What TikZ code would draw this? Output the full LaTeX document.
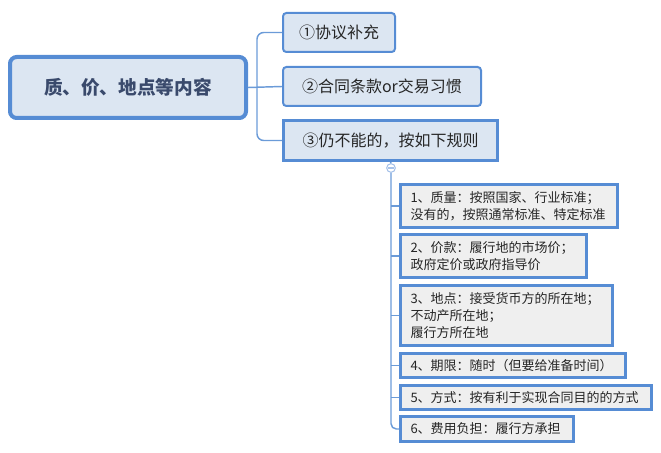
\documentclass[tikz,border=0pt]{standalone}
\usepackage{fontspec}
\setmainfont{Noto Sans CJK SC}
\usepackage{tikz}
\usepackage{xcolor}
\definecolor{edgeblue}{HTML}{568CD4}
\definecolor{linkblue}{HTML}{6B9BD8}
\definecolor{topicfill}{HTML}{DCE6F2}
\definecolor{rulefill}{HTML}{EFEFEF}
\definecolor{maintext}{HTML}{3A4A6C}
\definecolor{togblue}{HTML}{A8C3EA}

\begin{document}
\begin{tikzpicture}[x=0.75pt, y=-0.75pt,
        topic/.style = {draw = edgeblue, fill = topicfill, line width = 1.5pt,
            rounded corners = 2.5pt, minimum height = 29.25pt, inner sep = 0pt,
            font = \fontsize{12}{14}\selectfont, text = black!85},
        rulebox/.style = {draw = edgeblue, fill = rulefill, line width = 2.25pt,
            inner xsep = 7.5pt, inner ysep = 0pt, align = left,
            font = \fontsize{9.75}{13}\selectfont, text = black!85},
        link/.style = {draw = linkblue, line width = 1.1pt}]
        \useasboundingbox (0,0) rectangle (661,453);
        % central topic
        \node[draw = edgeblue, fill = topicfill, line width = 3pt,
            rounded corners = 5pt, minimum width = 177pt, minimum height = 45.75pt,
            font = \fontsize{14}{16}\selectfont\bfseries, text = maintext] (main) at (128,87.5) {质、价、地点等内容};
        % first level
        \node[topic, minimum width = 84pt] (agree) at (339,32.5) {①协议补充};
        \node[topic, minimum width = 148.5pt] (terms) at (382,86.5) {②合同条款or交易习惯};
        \node[topic, rounded corners = 0pt, line width = 2.25pt,
            minimum width = 160.5pt, minimum height = 30pt] (rules) at (390.5,140.5) {③仍不能的，按如下规则};
        \coordinate (spine) at (257,0);
        \draw[link] (main.east) -- (terms.west);
        \draw[link, rounded corners = 5pt] (agree.west) -- (agree.west -| spine)
            -- (rules.west -| spine) -- (rules.west);
        % rules
        \node[rulebox, text width = 147.75pt, minimum height = 32.25pt] (quality) at (509,206)
            {1、质量：按照国家、行业标准；\\没有的，按照通常标准、特定标准};
        \node[rulebox, text width = 124.5pt, minimum height = 32.25pt] (price) at (493.5,256)
            {2、价款：履行地的市场价；\\政府定价或政府指导价};
        \node[rulebox, text width = 144pt, minimum height = 45pt] (place) at (506.5,315.5)
            {3、地点：接受货币方的所在地；\\不动产所在地；\\履行方所在地};
        \node[rulebox, text width = 153.75pt, minimum height = 18pt] (term) at (513,365.5)
            {4、期限：随时（但要给准备时间）};
        \node[rulebox, text width = 173.25pt, minimum height = 18pt] (manner) at (526,397.5)
            {5、方式：按有利于实现合同目的的方式};
        \node[rulebox, text width = 114.75pt, minimum height = 18.75pt] (cost) at (487,429)
            {6、费用负担：履行方承担};
        \node[circle, draw = togblue, fill = white, line width = 0.8pt,
            minimum size = 6.5pt, inner sep = 0pt] (tog) at (391,168) {};
        \draw[togblue, line width = 0.8pt] ([xshift = 1.5pt]tog.west) -- ([xshift = -1.5pt]tog.east);
        \draw[link] (rules.south) -- (tog.north);
        \draw[link, rounded corners = 4pt] (tog.south) -- (tog.south |- cost.west) -- (cost.west);
        \foreach \r in {quality, price, place, term, manner}
            \draw[link] (\r.west -| tog) -- (\r.west);
    \end{tikzpicture}
\end{document}
